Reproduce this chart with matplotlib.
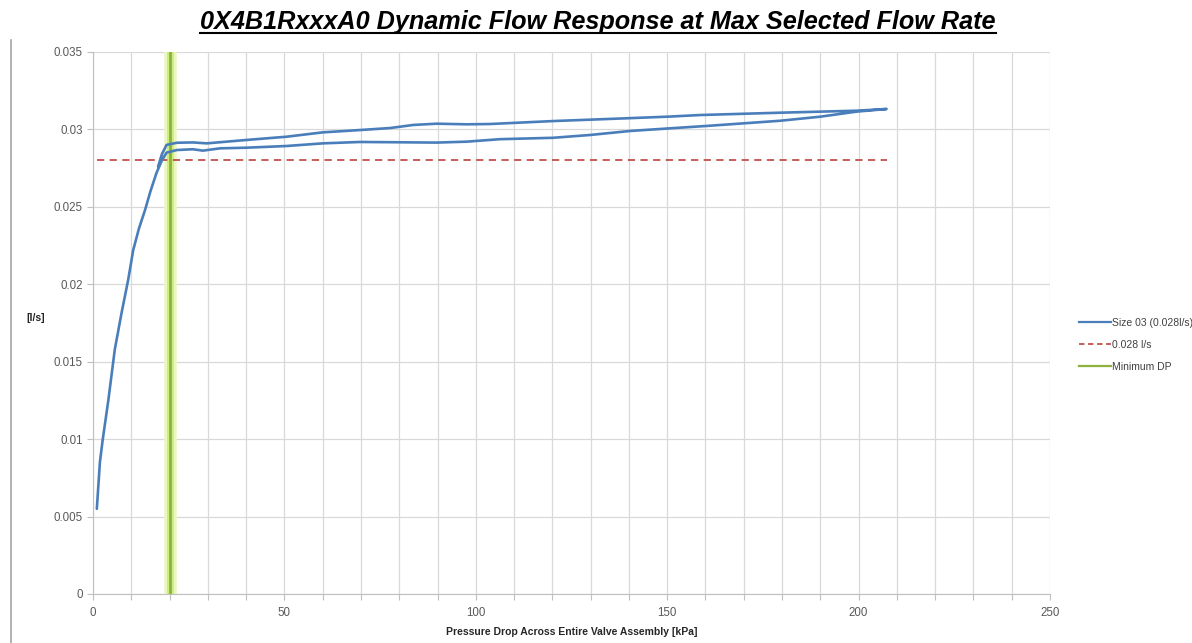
import matplotlib
matplotlib.use('Agg')
import matplotlib.pyplot as plt
from matplotlib.lines import Line2D
import numpy as np

# rising branch (lower curve)
up_x = [1, 1.8, 2.5, 4, 5.7, 7.5, 9.2, 10.5, 12, 13.6, 15, 16.6, 18, 19.2, 21.9,
        26.1, 28.7, 33.2, 40.1, 50.6, 60, 69.7, 80.2, 89.8, 97.6, 106.3, 120.2,
        129.8, 140.3, 150.7, 161.2, 179.5, 189.9, 199.5, 207.3]
up_y = [0.0055, 0.0085, 0.0099, 0.0125, 0.0158, 0.0182, 0.0203, 0.0222, 0.0236,
        0.0248, 0.0260, 0.0272, 0.0280, 0.0285, 0.02867, 0.02872, 0.02863, 0.02878,
        0.02882, 0.02893, 0.0291, 0.02919, 0.02917, 0.02915, 0.02921, 0.02937,
        0.02946, 0.02964, 0.0299, 0.03007, 0.03024, 0.03056, 0.03082, 0.03115, 0.03132]
# falling branch (upper curve)
down_x = [199.5, 179.5, 158.6, 150.7, 139.4, 120.2, 103.7, 97.6, 89.8, 83.7, 77.6,
          69.7, 60, 50.6, 40.1, 29.7, 26.1, 21.9, 19.2, 18, 17]
down_y = [0.03121, 0.03108, 0.03093, 0.03083, 0.03072, 0.03054, 0.03035, 0.03033,
          0.03037, 0.03029, 0.03009, 0.02996, 0.02981, 0.02953, 0.02932, 0.0291,
          0.02916, 0.02914, 0.0290, 0.0284, 0.0276]

target_flow = 0.028
target_x = [1, 207.3]
min_dp = 20

title = '0X4B1RxxxA0 Dynamic Flow Response at Max Selected Flow Rate'
xlabel = 'Pressure Drop Across Entire Valve Assembly [kPa]'
ylabel = '[l/s]'
labels = ['Size 03 (0.028l/s)', '0.028 l/s', 'Minimum DP']

blue = '#4a7ebb'
red = '#c0504d'
green = '#8db33c'
grey_txt = '#595959'

plt.rcParams['font.family'] = ['Liberation Sans', 'DejaVu Sans']

fig = plt.figure(figsize=(11.92, 6.43), dpi=100)
ax = fig.add_axes([93 / 1192, 1 - 594 / 643, (1050 - 93) / 1192, (594 - 52) / 643])

# minimum DP line with a soft glow
ax.axvline(min_dp, color='#eaf8c0', lw=9, zorder=2)
ax.axvline(min_dp, color='#cdec82', lw=5, zorder=2)
ax.axvline(min_dp, color=green, lw=2.0, zorder=3)

ax.plot(target_x, [target_flow] * 2, color=red, lw=1.3, ls=(0, (4, 3)), zorder=3)
ax.plot(up_x + down_x, up_y + down_y, color=blue, lw=1.9, zorder=4,
        solid_joinstyle='round', solid_capstyle='round')

ax.set_xlim(0, 250)
ax.set_ylim(0, 0.035)
ax.set_xticks(np.arange(0, 251, 50))
ax.set_xticks(np.arange(0, 251, 10), minor=True)
ax.set_yticks(np.arange(0, 0.0351, 0.005))
ax.set_yticklabels(['0', '0.005', '0.01', '0.015', '0.02', '0.025', '0.03', '0.035'])
ax.grid(True, which='both', color='#d9d9d9', lw=0.9, zorder=0)
ax.set_axisbelow(True)
ax.tick_params(which='both', colors='#bfbfbf', labelcolor=grey_txt, labelsize=8.3,
               length=4, width=0.8)
ax.tick_params(axis='x', which='major', pad=5)
for s in ['top', 'right']:
    ax.spines[s].set_visible(False)
for s in ['left', 'bottom']:
    ax.spines[s].set_color('#bfbfbf')

ax.set_xlabel(xlabel, fontsize=7.5, fontweight='bold', color='#262626', labelpad=6)
ax.set_ylabel(ylabel, fontsize=7.5, fontweight='bold', color='#262626', rotation=0,
              labelpad=0)
ax.yaxis.set_label_coords(-0.06, 0.5)

# figure border line on the left
fig.add_artist(Line2D([10.5 / 1192] * 2, [0, 1 - 40 / 643], color='#a6a6a6', lw=1.2))

handles = [Line2D([], [], color=blue, lw=1.6),
           Line2D([], [], color=red, lw=1.3, ls=(0, (3, 2))),
           Line2D([], [], color=green, lw=1.6)]
fig.legend(handles, labels, loc='center left', bbox_to_anchor=(1070 / 1192, 1 - 345 / 643),
           frameon=False, fontsize=7.5, handlelength=3.0, handletextpad=0.15,
           labelspacing=1.15, labelcolor='#404040')

t = fig.text(598 / 1192, 1 - 22 / 643, title, ha='center', va='center', fontsize=18.2,
             fontweight='bold', fontstyle='italic')
fig.canvas.draw()
bb = t.get_window_extent().transformed(fig.transFigure.inverted())
fig.add_artist(Line2D([bb.x0, bb.x1], [bb.y0 + 0.002] * 2, color='black', lw=1.5))

fig.savefig('out.png', dpi=100)
